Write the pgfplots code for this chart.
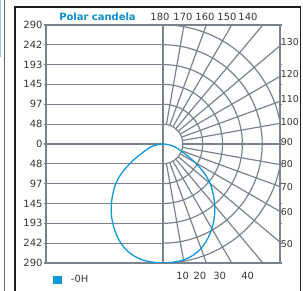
\documentclass[border=0pt]{standalone}
\usepackage{fontspec}
\setmainfont{DejaVu Sans}
\usepackage{pgfplots}
\pgfplotsset{compat=1.18}
\usepackage{pgfplotstable}
\definecolor{gridgray}{RGB}{122,131,141}
\definecolor{curveblue}{RGB}{15,152,218}
\definecolor{titleblue}{RGB}{10,140,205}
\definecolor{txt}{RGB}{55,55,55}
\definecolor{frameblk}{RGB}{30,30,30}
\definecolor{lightblue}{RGB}{150,200,230}

% candela curve, cartesian (x = I sin a, y = -I cos a), a = -85..90 step 5
\pgfplotstableread{
x y
-7.97 -0.70
-19.70 -3.47
-31.88 -8.54
-41.35 -15.05
-56.19 -26.20
-77.94 -45.00
-99.94 -69.98
-114.91 -96.42
-122.33 -122.33
-125.99 -150.14
-125.04 -178.58
-119.00 -206.11
-108.19 -232.02
-92.69 -254.66
-72.73 -271.43
-49.84 -282.64
-25.19 -287.90
0 -290
25.19 -287.90
49.84 -282.64
72.73 -271.43
92.69 -254.66
108.19 -232.02
119.00 -206.11
125.04 -178.58
125.99 -150.14
122.33 -122.33
114.91 -96.42
99.94 -69.98
77.94 -45.00
56.19 -26.20
41.35 -15.05
31.88 -8.54
19.70 -3.47
7.97 -0.70
0 0
}\curve

\begin{document}
\begin{tikzpicture}[x=1bp,y=1bp]
\path[use as bounding box] (0,0) rectangle (303,291);
% outer frames
\draw[lightblue, line width=1bp] (0.6,291) -- (0.6,234);
\draw[gray!80!black, line width=1bp] (4.8,-3) -- (4.8,294);
\draw[frameblk, line width=1.5bp] (15,-3) -- (15,284) -- (300.6,284) -- (300.6,-3);

\begin{axis}[
  at={(46bp,28bp)}, anchor=south west,
  x=0.41053bp, y=0.41053bp,
  xmin=-285, xmax=285, ymin=-290, ymax=290,
  axis line style={gridgray, line width=1.2bp},
  xtick=\empty,
  ytick={-290,-241.667,-193.333,-145,-96.667,-48.333,0,48.333,96.667,145,193.333,241.667,290},
  yticklabels={290,242,193,145,97,48,0,48,97,145,193,242,290},
  ytick style={gridgray, line width=1.2bp},
  tick align=outside, major tick length=2.5bp,
  yticklabel style={font=\fontsize{10}{12}\selectfont, text=txt, inner sep=0.8bp},
  /pgf/number format/assume math mode=true,
  legend style={at={(axis description cs:0.027,-0.0714)}, anchor=west, draw=none, fill=none,
    inner sep=0pt, font=\fontsize{10}{12}\selectfont, text=txt,
    nodes={inner sep=0pt}},
  legend image code/.code={\fill[curveblue, draw=none] (0bp,-4.2bp) rectangle (9.4bp,4.2bp); \path[draw=none] (0bp,0bp) -- (18.4bp,0bp);},
]
\pgfplotsextra{
  \begin{scope}
  \clip (axis cs:-285,-290) rectangle (axis cs:285,290);
  \foreach \yy in {-290,-241.667,-193.333,-145,-96.667,-48.333,0,48.333,96.667,145,193.333,241.667,290}
    \draw[gridgray, line width=1.2bp] (axis cs:-285,\yy) -- (axis cs:0,\yy);
  \draw[gridgray, line width=1.2bp] (axis cs:0,-290) -- (axis cs:0,290);
  \foreach \r in {19.842bp,39.684bp,59.526bp,79.368bp,99.21bp,119.05bp}
    \draw[gridgray, line width=1.2bp] (axis cs:0,0) ++(90:\r) arc[start angle=90,end angle=-90,radius=\r];
  \foreach \t in {0,10,...,180}
    \draw[gridgray, line width=1.2bp] (axis cs:0,0) ++(\t-90:19.842bp) -- ++(\t-90:200bp);
  \end{scope}
}
\addplot[curveblue, line width=1.3bp, smooth cycle] table[x=x, y=y] {\curve};
\addlegendentry{-0H}
\end{axis}

% title
\node[anchor=base, font=\bfseries\fontsize{10}{12}\selectfont, text=titleblue, inner sep=0pt] at (97.5,270.3) {Polar candela};
% angle labels
\begin{scope}[every node/.style={anchor=base, font=\fontsize{10}{12}\selectfont, text=txt, inner sep=0pt}]
\node at (160,270.3) {180};
\node at (183,270.3) {170};
\node at (205,270.3) {160};
\node at (227,270.3) {150};
\node at (248,270.3) {140};
\node at (182.7,11.7) {10};
\node at (200,11.7) {20};
\node at (219.7,11.7) {30};
\node at (247.7,11.7) {40};
\end{scope}
\begin{scope}[every node/.style={anchor=west, font=\fontsize{9.5}{12}\selectfont, text=txt, inner sep=0pt}]
\node at (280.6,248.5) {130};
\node at (280.6,217) {120};
\node at (280.6,192) {110};
\node at (280.6,168.5) {100};
\node at (280.6,148.5) {90};
\node at (280.6,127) {80};
\node at (280.6,104) {70};
\node at (280.6,79) {60};
\node at (280.6,47) {50};
\end{scope}
\end{tikzpicture}
\end{document}
